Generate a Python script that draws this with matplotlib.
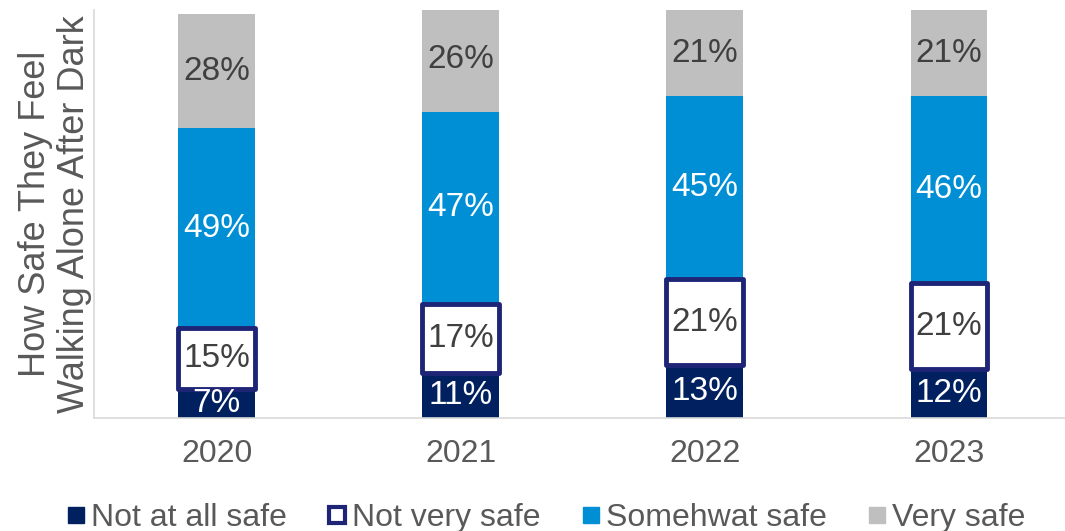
import numpy as np
import matplotlib
matplotlib.use('Agg')
import matplotlib.pyplot as plt
from matplotlib.lines import Line2D

plt.rcParams['font.family'] = ['Liberation Sans', 'DejaVu Sans']

years = ['2020', '2021', '2022', '2023']
not_at_all_safe = [7, 11, 13, 12]
not_very_safe = [15, 17, 21, 21]
somewhat_safe = [49, 47, 45, 46]
very_safe = [28, 26, 21, 21]

series_names = ['Not at all safe', 'Not very safe', 'Somehwat safe', 'Very safe']

NAVY = '#002060'
EDGE_NAVY = '#1F2576'
BLUE = '#008FD5'
GREY = '#BFBFBF'
DARK_TEXT = '#404040'
AXIS_TEXT = '#595959'

fig = plt.figure(figsize=(10.65, 5.31), dpi=100)
ax = fig.add_axes([0.0887, 0.2128, 0.917, 0.768])

x = np.arange(len(years))
width = 0.315
bottom = np.zeros(len(years))

# stacked segments: (values, face, edge, label colour)
segments = [
    (not_at_all_safe, NAVY, 'none', 'white'),
    (not_very_safe, 'white', EDGE_NAVY, DARK_TEXT),
    (somewhat_safe, BLUE, 'none', 'white'),
    (very_safe, GREY, 'none', DARK_TEXT),
]

for vals, face, edge, txt in segments:
    vals = np.array(vals)
    if edge == 'none':
        ax.bar(x, vals, width, bottom=bottom, color=face, linewidth=0, zorder=2)
    else:
        ax.bar(x, vals, width, bottom=bottom, facecolor=face, edgecolor=edge,
               linewidth=3.5, joinstyle='round', zorder=3)
    for xi, b, v in zip(x, bottom, vals):
        ax.text(xi, b + v / 2, f'{v}%', ha='center', va='center',
                fontsize=24, color=txt, zorder=4)
    bottom = bottom + vals

ax.set_xlim(-0.5, len(years) - 0.5)
ax.set_ylim(0, 100)
ax.set_xticks(x)
ax.set_xticklabels(years, fontsize=23, color=AXIS_TEXT)
ax.tick_params(axis='x', length=0, pad=15)
ax.set_yticks([])
for side in ['top', 'right']:
    ax.spines[side].set_visible(False)
for side in ['left', 'bottom']:
    ax.spines[side].set_color('#D9D9D9')
    ax.spines[side].set_linewidth(1.2)

ax.set_ylabel('How Safe They Feel\nWalking Alone After Dark', fontsize=26,
              color=AXIS_TEXT, linespacing=1.15, labelpad=2)

handles = [
    Line2D([], [], marker='s', linestyle='none', markersize=12,
           markerfacecolor=NAVY, markeredgecolor=NAVY),
    Line2D([], [], marker='s', linestyle='none', markersize=11,
           markerfacecolor='white', markeredgecolor=EDGE_NAVY, markeredgewidth=3),
    Line2D([], [], marker='s', linestyle='none', markersize=12,
           markerfacecolor=BLUE, markeredgecolor=BLUE),
    Line2D([], [], marker='s', linestyle='none', markersize=12,
           markerfacecolor=GREY, markeredgecolor=GREY),
]
leg = fig.legend(handles, series_names, loc='center', bbox_to_anchor=(0.513, 0.025),
                 ncol=4, frameon=False, fontsize=23, handlelength=0.55,
                 handletextpad=0.2, columnspacing=1.3)
for t in leg.get_texts():
    t.set_color(AXIS_TEXT)

fig.savefig('out.png', dpi=100)
